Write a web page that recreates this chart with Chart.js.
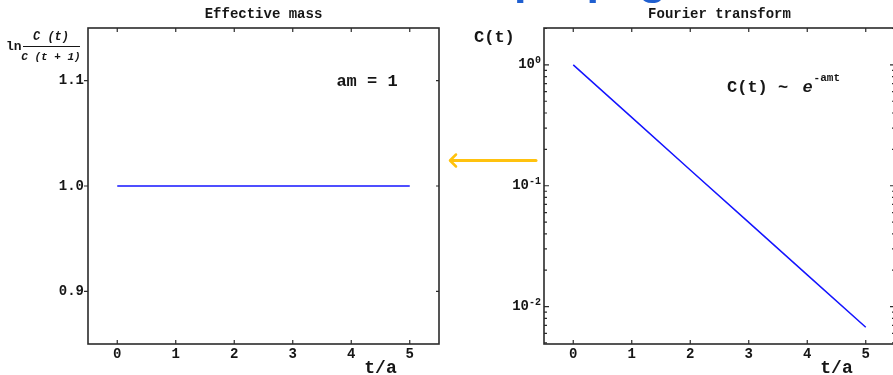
<!DOCTYPE html>
<html>
<head>
<meta charset="utf-8">
<script src="https://cdn.jsdelivr.net/npm/chart.js@4.4.0/dist/chart.umd.min.js"></script>
<style>
    html, body { margin: 0; padding: 0; background: #fff; overflow: hidden; width: 893px; height: 375px; }
    .panel { position: absolute; top: 0; }
    #massPanel { left: 0; width: 450px; height: 375px; }
    #corrPanel { left: 450px; width: 460px; height: 375px; }
    #overlay { position: absolute; left: 0; top: 0; pointer-events: none; }
</style>
</head>
<body>
<div class="panel" id="massPanel"><canvas id="massChart" width="450" height="375"></canvas></div>
<div class="panel" id="corrPanel"><canvas id="corrChart" width="460" height="375"></canvas></div>
<canvas id="overlay" width="893" height="375"></canvas>
<script>
const timeSlices = [0, 1, 2, 3, 4, 5];
const effectiveMass = [1, 1, 1, 1, 1, 1];
const correlator = [1, 0.368, 0.135, 0.0498, 0.0183, 0.00674];

const timeTicks = [0, 1, 2, 3, 4, 5];
const massTicks = [0.9, 1.0, 1.1];
const corrTicks = [1, 0.1, 0.01];
const corrExponents = ['0', '-1', '-2'];
const minorFactors = [2, 3, 4, 5, 6, 7, 8, 9];

const MONO = '"Liberation Mono", "Courier New", monospace';
const INK = '#161616';
const LINE_BLUE = '#1414ff';

function points(ys) {
    return timeSlices.map((t, i) => ({ x: t, y: ys[i] }));
}

function logMinorTicks(min, max) {
    const out = [];
    for (let e = Math.floor(Math.log10(min)); e <= Math.ceil(Math.log10(max)); e++) {
        minorFactors.forEach(f => {
            const v = f * Math.pow(10, e);
            if (v >= min && v <= max) out.push(v);
        });
    }
    return out;
}

// frame box with inward ticks, the way Mathematica draws a framed plot
function drawFrame(chart, opt) {
    const { ctx, chartArea: a } = chart;
    const x = chart.scales.x, y = chart.scales.y;
    ctx.save();
    ctx.strokeStyle = '#2b2b2b';
    ctx.lineWidth = 1.6;
    ctx.strokeRect(a.left, a.top, a.right - a.left, a.bottom - a.top);
    ctx.lineWidth = 1.2;
    ctx.beginPath();
    timeTicks.forEach(t => {
        const px = x.getPixelForValue(t);
        ctx.moveTo(px, a.bottom); ctx.lineTo(px, a.bottom - 4);
        ctx.moveTo(px, a.top); ctx.lineTo(px, a.top + 4);
    });
    opt.major.forEach(v => {
        const py = y.getPixelForValue(v);
        ctx.moveTo(a.left - opt.leftOut, py); ctx.lineTo(a.left + opt.leftIn, py);
        ctx.moveTo(a.right, py); ctx.lineTo(a.right - opt.rightIn, py);
    });
    (opt.minor || []).forEach(v => {
        const py = y.getPixelForValue(v);
        ctx.moveTo(a.left, py); ctx.lineTo(a.left + 3, py);
        ctx.moveTo(a.right, py); ctx.lineTo(a.right - 3, py);
    });
    ctx.stroke();
    ctx.restore();
}

function label(ctx, s, x, y, font, align) {
    ctx.font = font;
    ctx.textAlign = align || 'left';
    ctx.fillText(s, x, y);
    return ctx.measureText(s).width;
}

function axisTitle(chart, title) {
    const { ctx, chartArea: a } = chart;
    ctx.save();
    ctx.fillStyle = INK;
    ctx.textBaseline = 'alphabetic';
    label(ctx, title, (a.left + a.right) / 2, 18, 'bold 14px ' + MONO, 'center');
    label(ctx, 't/a', chart.scales.x.getPixelForValue(4.5), 373, 'bold 18px ' + MONO, 'center');
    ctx.restore();
}

const tickFont = { family: MONO, size: 14, weight: 'bold' };

function baseScales(yScale) {
    return {
        x: {
            type: 'linear', min: -0.5, max: 5.5,
            afterBuildTicks: s => { s.ticks = timeTicks.map(v => ({ value: v })); },
            afterFit: s => { s.height = 31; },
            grid: { display: false, drawTicks: false },
            border: { display: false },
            ticks: { font: tickFont, color: INK, padding: 2, maxRotation: 0, callback: v => String(v) }
        },
        y: yScale
    };
}

const massPlugin = {
    id: 'massDecor',
    afterDraw(chart) {
        drawFrame(chart, { major: massTicks, leftOut: 4, leftIn: 0, rightIn: 3 });
        axisTitle(chart, 'Effective mass');
        const ctx = chart.ctx;
        ctx.save();
        ctx.fillStyle = INK;
        ctx.textBaseline = 'middle';
        // ln C(t) / C(t+1)
        label(ctx, 'ln', 6, 47, 'bold 13px ' + MONO);
        label(ctx, 'C (t)', 51, 37, 'italic bold 12px ' + MONO, 'center');
        label(ctx, 'C (t + 1)', 51, 57, 'italic bold 11px ' + MONO, 'center');
        ctx.strokeStyle = INK;
        ctx.lineWidth = 1;
        ctx.beginPath(); ctx.moveTo(23, 46.5); ctx.lineTo(80, 46.5); ctx.stroke();
        ctx.textBaseline = 'alphabetic';
        label(ctx, 'am = 1', 367, 86, 'bold 17px ' + MONO, 'center');
        ctx.restore();
    }
};

new Chart(document.getElementById('massChart'), {
    type: 'line',
    data: {
        datasets: [{
            data: points(effectiveMass),
            borderColor: LINE_BLUE,
            borderWidth: 1.5,
            pointRadius: 0,
            tension: 0
        }]
    },
    options: {
        responsive: false,
        animation: false,
        layout: { padding: { left: 0, right: 11, top: 28, bottom: 0 } },
        plugins: { legend: { display: false }, tooltip: { enabled: false } },
        scales: baseScales({
            type: 'linear', min: 0.85, max: 1.15,
            afterBuildTicks: s => { s.ticks = massTicks.map(v => ({ value: v })); },
            afterFit: s => { s.width = 88; },
            grid: { display: false, drawTicks: false },
            border: { display: false },
            ticks: { font: tickFont, color: INK, padding: 4, callback: v => v.toFixed(1) }
        })
    },
    plugins: [massPlugin]
});

const corrMin = 0.0049, corrMax = 2.02;

const corrPlugin = {
    id: 'corrDecor',
    afterDraw(chart) {
        drawFrame(chart, { major: corrTicks, minor: logMinorTicks(corrMin, corrMax), leftOut: 0, leftIn: 5, rightIn: 5 });
        axisTitle(chart, 'Fourier transform');
        const { ctx, chartArea: a } = chart;
        const y = chart.scales.y;
        ctx.save();
        ctx.fillStyle = INK;
        ctx.textBaseline = 'middle';
        // powers of ten with raised exponents
        corrTicks.forEach((v, i) => {
            const py = y.getPixelForValue(v);
            const right = a.left - 3;
            ctx.font = 'bold 10px ' + MONO;
            const ew = ctx.measureText(corrExponents[i]).width;
            label(ctx, corrExponents[i], right, py - 4, 'bold 10px ' + MONO, 'right');
            label(ctx, '10', right - ew, py, 'bold 14px ' + MONO, 'right');
        });
        ctx.textBaseline = 'alphabetic';
        label(ctx, 'C(t)', a.left - 70, 42, 'bold 17px ' + MONO);
        const x0 = a.left + 183;
        let w = label(ctx, 'C(t) ~ ', x0, 92, 'bold 17px ' + MONO);
        w += label(ctx, 'e', x0 + w + 4, 92, 'italic bold 17px ' + MONO) + 4;
        label(ctx, '-amt', x0 + w + 1, 81, 'bold 11px ' + MONO);
        ctx.restore();
    }
};

new Chart(document.getElementById('corrChart'), {
    type: 'line',
    data: {
        datasets: [{
            data: points(correlator),
            borderColor: LINE_BLUE,
            borderWidth: 1.5,
            pointRadius: 0,
            tension: 0
        }]
    },
    options: {
        responsive: false,
        animation: false,
        layout: { padding: { left: 0, right: 15, top: 28, bottom: 0 } },
        plugins: { legend: { display: false }, tooltip: { enabled: false } },
        scales: baseScales({
            type: 'logarithmic', min: corrMin, max: corrMax,
            afterBuildTicks: s => { s.ticks = corrTicks.map(v => ({ value: v })); },
            afterFit: s => { s.width = 94; },
            grid: { display: false, drawTicks: false },
            border: { display: false },
            ticks: { display: false }
        })
    },
    plugins: [corrPlugin]
});

// slide overlay: arrow between the panels and the heading above them
(function () {
    const ctx = document.getElementById('overlay').getContext('2d');
    ctx.fillStyle = '#1f5fd0';
    ctx.font = 'bold 45px "Liberation Sans", Arial, sans-serif';
    ctx.textBaseline = 'alphabetic';
    ctx.fillText('propagator', 514, -6);

    ctx.strokeStyle = '#ffc20e';
    ctx.lineCap = 'round';
    ctx.lineJoin = 'round';
    ctx.lineWidth = 3;
    ctx.beginPath(); ctx.moveTo(536, 160.5); ctx.lineTo(451, 160.5); ctx.stroke();
    ctx.lineWidth = 2.5;
    ctx.beginPath(); ctx.moveTo(456, 154.5); ctx.lineTo(450, 160.5); ctx.lineTo(456, 166.5); ctx.stroke();
})();
</script>
</body>
</html>
